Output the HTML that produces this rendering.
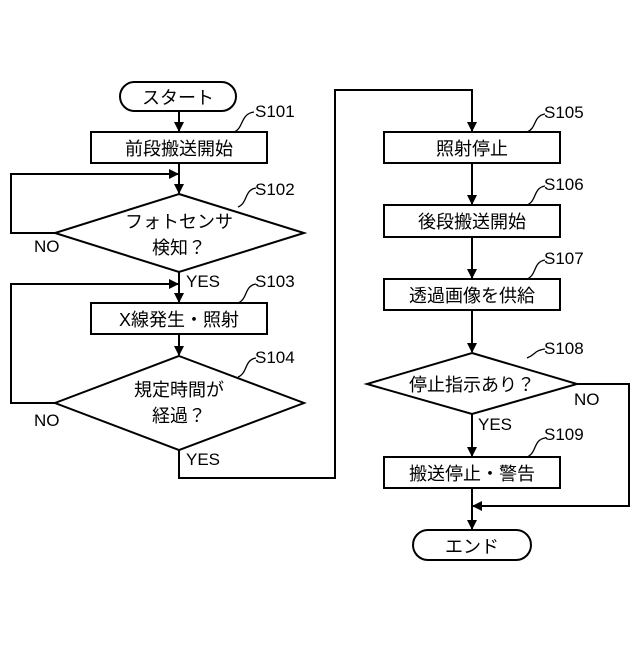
<!DOCTYPE html>
<html><head><meta charset="utf-8"><style>
html,body{margin:0;padding:0;background:#fff}
svg text{font-family:"Liberation Sans","Noto Sans CJK JP",sans-serif;fill:#000}
</style></head><body>
<svg width="640" height="640" viewBox="0 0 640 640" xmlns="http://www.w3.org/2000/svg">
<defs><marker id="a" markerWidth="10" markerHeight="10" refX="9" refY="5" orient="auto" markerUnits="userSpaceOnUse"><path d="M0,0 L10,5 L0,10 z" fill="#000"/></marker></defs>
<g fill="none" stroke="#000" stroke-width="2">
<rect x="120" y="82" width="116" height="29" rx="14.5"/>
<rect x="91" y="132" width="176" height="31"/>
<polygon points="179,194 304,233 179,272 55,233"/>
<rect x="91" y="303" width="176" height="31"/>
<polygon points="179,356 304,403 179,450 55,403"/>
<rect x="384" y="132" width="176" height="31"/>
<rect x="384" y="205" width="176" height="32"/>
<rect x="384" y="279" width="176" height="31"/>
<polygon points="472,353 577,384 472,414 367,384"/>
<rect x="384" y="457" width="176" height="31"/>
<rect x="413" y="530" width="118" height="30" rx="15"/>
<line x1="179" y1="111" x2="179" y2="131" marker-end="url(#a)"/>
<line x1="179" y1="163" x2="179" y2="193" marker-end="url(#a)"/>
<polyline points="55,233 11,233 11,174 178,174" marker-end="url(#a)"/>
<line x1="179" y1="272" x2="179" y2="302" marker-end="url(#a)"/>
<polyline points="55,403 11,403 11,284 178,284" marker-end="url(#a)"/>
<line x1="179" y1="334" x2="179" y2="355" marker-end="url(#a)"/>
<polyline points="179,450 179,478 335,478 335,90 472,90 472,131" marker-end="url(#a)"/>
<line x1="472" y1="163" x2="472" y2="204" marker-end="url(#a)"/>
<line x1="472" y1="237" x2="472" y2="278" marker-end="url(#a)"/>
<line x1="472" y1="310" x2="472" y2="352" marker-end="url(#a)"/>
<line x1="472" y1="414" x2="472" y2="456" marker-end="url(#a)"/>
<line x1="472" y1="488" x2="472" y2="529" marker-end="url(#a)"/>
<polyline points="577,384 629,384 629,506 473,506" marker-end="url(#a)"/>
<g stroke-width="1.3">
<path d="M234,132 C244,128 240,114 254,112"/>
<path d="M238,207 C248,203 244,190 256,188"/>
<path d="M238,303 C248,299 244,286 256,284"/>
<path d="M238,377 C248,373 244,360 256,358"/>
<path d="M527,132 C537,128 533,116 545,114"/>
<path d="M527,205 C537,201 533,188 545,186"/>
<path d="M527,279 C537,275 533,262 545,260"/>
<path d="M527,358 C537,354 533,351 545,349"/>
<path d="M527,457 C537,453 533,440 545,438"/>
</g>
</g>
<g font-size="18" text-anchor="middle">
<text x="178" y="104">スタート</text>
<text x="179" y="155">前段搬送開始</text>
<text x="179" y="228">フォトセンサ</text>
<text x="179" y="254">検知？</text>
<text x="179" y="326">X線発生・照射</text>
<text x="179" y="396">規定時間が</text>
<text x="179" y="422">経過？</text>
<text x="472" y="155">照射停止</text>
<text x="472" y="228">後段搬送開始</text>
<text x="472" y="302">透過画像を供給</text>
<text x="472" y="391">停止指示あり？</text>
<text x="472" y="480">搬送停止・警告</text>
<text x="472" y="553">エンド</text>
</g>
<g font-size="17">
<text x="255" y="117">S101</text>
<text x="255" y="195">S102</text>
<text x="255" y="287">S103</text>
<text x="255" y="363">S104</text>
<text x="544" y="118">S105</text>
<text x="544" y="190">S106</text>
<text x="544" y="264">S107</text>
<text x="544" y="354">S108</text>
<text x="544" y="440">S109</text>
<text x="34" y="252">NO</text>
<text x="34" y="426">NO</text>
<text x="186" y="287">YES</text>
<text x="186" y="465">YES</text>
<text x="574" y="405">NO</text>
<text x="478" y="430">YES</text>
</g>
</svg>
</body></html>
